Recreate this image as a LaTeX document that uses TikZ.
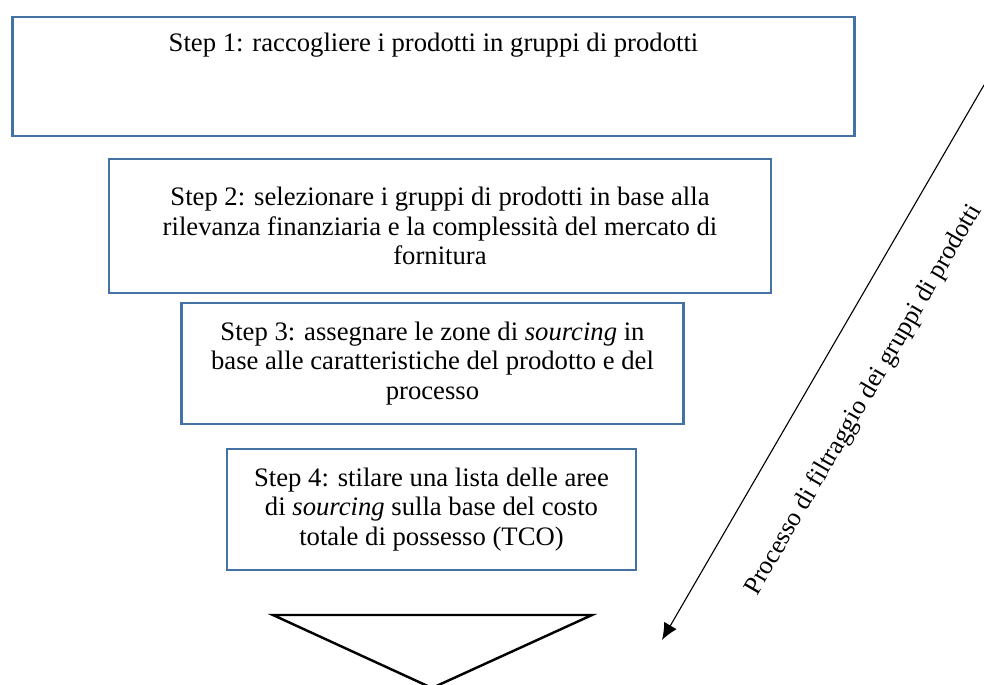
\documentclass[tikz,border=0pt]{standalone}
\usepackage{fontspec}
\setmainfont{Liberation Serif}
\usepackage{xcolor}
\usepackage{tikz}
\usetikzlibrary{arrows.meta}

\definecolor{boxblue}{RGB}{68,114,164}

\begin{document}
\begin{tikzpicture}[x=0.45pt,y=-0.45pt,
    every node/.style={font=\fontsize{12}{13.2}\selectfont},
    stepbox/.style={draw=boxblue,line width=1.1pt,align=center,inner sep=0pt}]
    \useasboundingbox (0,0) rectangle (984,684);
    \node[stepbox,minimum width=379pt,minimum height=53.6pt] (step1) at (433.5,76.5) {};
    \node[anchor=north,inner sep=0pt] (step1text) at (433.5,33) {Step 1: raccogliere i prodotti in gruppi di prodotti};
    \node[stepbox,minimum width=298pt,minimum height=60.3pt] (step2) at (440,226)
        {Step 2: selezionare i gruppi di prodotti in base alla\\rilevanza finanziaria e la complessità del mercato di\\fornitura};
    \node[stepbox,minimum width=226pt,minimum height=54.5pt] (step3) at (432.5,363.5)
        {Step 3: assegnare le zone di \textit{sourcing} in\\base alle caratteristiche del prodotto e del\\processo};
    \node[stepbox,minimum width=184pt,minimum height=54.5pt] (step4) at (431.5,509.5)
        {Step 4: stilare una lista delle aree\\di \textit{sourcing} sulla base del costo\\totale di possesso (TCO)};
    \draw[line width=1.1pt,line join=miter] (273,615) -- (592,615) -- (432,688) -- cycle;
    \coordinate (arrowtop) at (984,85);
    \coordinate (arrowtip) at (662,640);
    \draw[line width=0.5pt,-{Latex[length=7.5pt,width=6.5pt]}] (arrowtop) -- (arrowtip);
    \node[rotate=59.87,inner sep=0pt,font=\fontsize{11.6}{13}\selectfont] (filtro) at (864,400) {Processo di filtraggio dei gruppi di prodotti};
\end{tikzpicture}
\end{document}
